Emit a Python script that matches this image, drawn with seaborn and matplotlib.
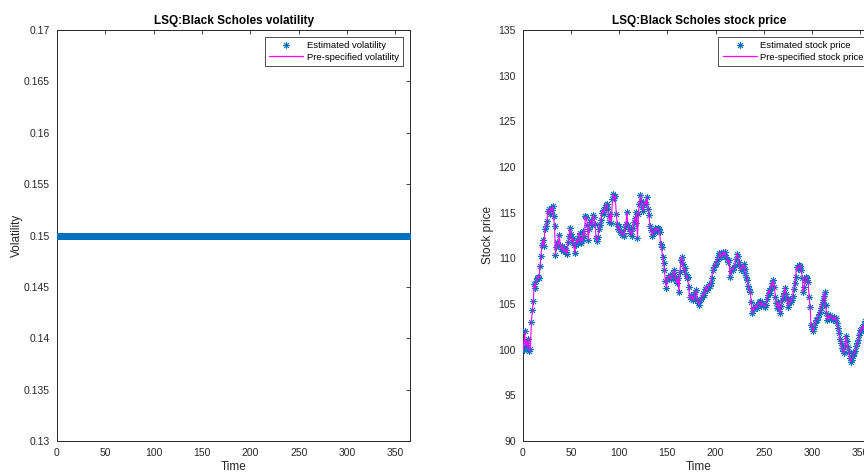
import numpy as np
import pandas as pd
import matplotlib
matplotlib.use("Agg")
import matplotlib.pyplot as plt
import seaborn as sns

# ---------------- data ----------------
time = list(range(0, 366))
volatility_est = [0.15] * len(time)
volatility_pre = [0.15] * len(time)

stock_price = [
    100.3, 100.0, 102.0, 100.5, 101.0, 100.2, 101.2, 99.9, 100.1, 103.0,
    104.3, 105.3, 107.2, 106.8, 107.5, 107.9, 108.0, 107.8, 109.2, 110.3,
    111.5, 112.0, 111.3, 113.2, 113.5, 114.1, 115.2, 115.4, 114.8, 115.5,
    115.3, 115.7, 114.6, 113.5, 110.4, 111.2, 111.8, 111.5, 112.6, 111.3,
    111.0, 111.4, 110.8, 111.1, 110.7, 110.9, 110.5, 111.8, 112.4, 113.3,
    112.7, 111.8, 112.2, 111.5, 110.6, 111.5, 112.0, 111.7, 112.5, 112.8,
    111.7, 112.2, 111.9, 113.0, 112.4, 114.6, 114.5, 113.7, 112.0, 113.2,
    114.0, 114.2, 113.6, 114.7, 114.5, 113.8, 112.2, 111.9, 112.3, 113.2,
    113.7, 114.2, 115.0, 115.3, 114.9, 115.6, 115.8, 115.9, 115.4, 114.6,
    114.0, 114.8, 113.9, 116.5, 117.0, 116.6, 116.8, 114.9, 113.8, 113.2,
    113.5, 112.9, 113.0, 112.6, 112.8, 112.5, 113.4, 113.8, 115.1, 113.7,
    113.2, 112.8, 113.0, 112.5, 113.3, 114.0, 114.4, 113.9, 115.1, 112.2,
    114.8, 116.0, 116.9, 116.3, 115.6, 115.2, 116.0, 116.2, 115.9, 116.7,
    115.4, 114.7, 113.5, 113.1, 112.5, 113.0, 112.8, 113.3, 113.2, 113.0,
    113.3, 113.2, 112.9, 111.6, 111.2, 110.2, 109.5, 108.7, 107.5, 106.8,
    107.6, 108.0, 107.9, 108.2, 107.7, 108.0, 108.4, 108.7, 108.1, 107.6,
    107.3, 107.9, 106.3, 108.5, 109.8, 110.2, 109.4, 108.7, 108.9, 108.3,
    107.9, 108.0, 106.9, 105.8, 105.5, 106.0, 105.8, 105.4, 105.9, 106.3,
    106.5, 105.6, 105.1, 104.9, 105.4, 105.5, 105.8, 106.2, 106.0, 106.6,
    106.9, 106.5, 106.8, 107.2, 107.0, 107.3, 107.9, 108.7, 109.0, 109.3,
    109.4, 109.7, 109.9, 110.2, 110.6, 110.5, 110.1, 110.3, 110.7, 110.4,
    110.7, 110.2, 109.9, 109.6, 109.8, 108.0, 108.6, 108.9, 108.7, 109.1,
    109.3, 109.9, 110.5, 110.3, 109.6, 109.2, 108.7, 109.0, 108.9, 109.4,
    108.8, 108.4, 108.0, 107.6, 107.0, 106.6, 106.3, 105.2, 104.0, 104.6,
    104.4, 104.7, 104.9, 104.6, 105.0, 105.2, 105.3, 104.8, 105.1, 104.9,
    105.0, 104.7, 104.9, 105.5, 106.0, 106.5, 106.2, 106.8, 107.3, 106.9,
    107.6, 106.9, 105.8, 105.1, 104.6, 105.2, 104.5, 104.0, 104.8, 105.4,
    105.9, 106.2, 106.8, 106.1, 105.5, 104.7, 105.1, 105.6, 105.2, 105.4,
    105.9, 106.6, 107.3, 108.0, 109.1, 108.8, 109.0, 109.3, 109.2, 108.7,
    107.9, 106.3, 106.9, 107.6, 108.0, 107.8, 107.4, 105.8, 104.7, 102.7,
    102.3, 102.0, 102.5, 102.9, 103.2, 103.3, 103.6, 103.9, 104.1, 104.6,
    105.0, 105.4, 105.9, 106.3, 104.9, 104.0, 103.3, 103.7, 103.4, 103.8,
    103.6, 103.5, 103.2, 103.6, 103.3, 103.5, 102.9, 102.4, 101.8, 101.2,
    100.7, 100.2, 99.9, 99.6, 100.4, 101.5, 100.9, 100.3, 99.7, 99.1,
    98.7, 98.9, 99.3, 99.6, 99.6, 99.9, 100.4, 100.7, 101.1, 101.6,
    102.2, 102.0, 102.5, 102.3, 102.8, 103.1, 102.7, 103.0, 103.4, 103.2,
    103.6, 103.3, 103.8, 104.0, 103.7, 104.1,
]
stock_est = stock_price
stock_pre = stock_price

x_ticks = [0, 50, 100, 150, 200, 250, 300, 350]
vol_ticks = [0.13, 0.135, 0.14, 0.145, 0.15, 0.155, 0.16, 0.165, 0.17]
vol_ticklabels = ["0.13", "0.135", "0.14", "0.145", "0.15", "0.155", "0.16", "0.165", "0.17"]
price_ticks = [90, 95, 100, 105, 110, 115, 120, 125, 130, 135]

# ---------------- style ----------------
sns.set_theme(style="white")
plt.rcParams["font.family"] = ["Liberation Sans", "DejaVu Sans"]

BLUE = (0.0, 0.447, 0.741)
MAG = (1.0, 0.0, 1.0)
AX = "#262626"
STAR = (8, 2, 0)

fig = plt.figure(figsize=(8.64, 4.72), dpi=100)
ax1 = fig.add_axes([57 / 864, 31 / 472, 353 / 864, 411 / 472])
ax2 = fig.add_axes([522.7 / 864, 31 / 472, 352 / 864, 411 / 472])

df_vol = pd.DataFrame({"Time": time, "est": volatility_est, "pre": volatility_pre})
df_px = pd.DataFrame({"Time": time, "est": stock_est, "pre": stock_pre})


def draw(ax, df, est_label, pre_label, line_z):
    sns.lineplot(data=df, x="Time", y="est", ax=ax, linestyle="none",
                 marker=STAR, markersize=5, markeredgewidth=0.6,
                 color=BLUE, markeredgecolor=BLUE, label=est_label,
                 estimator=None, sort=False, zorder=3)
    sns.lineplot(data=df, x="Time", y="pre", ax=ax, color=MAG, linewidth=0.8,
                 label=pre_label, estimator=None, sort=False, zorder=line_z)


draw(ax1, df_vol, "Estimated volatility", "Pre-specified volatility", 2)
draw(ax2, df_px, "Estimated stock price", "Pre-specified stock price", 4)

for ax in (ax1, ax2):
    ax.set_xlim(0, 365)
    ax.set_xticks(x_ticks)
    ax.set_xlabel("Time", fontsize=8.5, color=AX, labelpad=2)
    ax.tick_params(direction="in", length=3, width=0.6, colors=AX,
                   labelsize=7.5, top=True, right=True)
    ax.tick_params(axis="x", pad=5)
    ax.tick_params(axis="y", pad=5)
    for s in ax.spines.values():
        s.set_color(AX)
        s.set_linewidth(0.7)
    leg = ax.legend(loc="upper right", fontsize=6.8, frameon=True, fancybox=False,
                    edgecolor="black", borderpad=0.45, handlelength=3.6,
                    handletextpad=0.4, labelspacing=0.3, borderaxespad=0.7)
    leg.get_frame().set_linewidth(0.6)
    for t in leg.get_texts():
        t.set_color("black")
    leg.get_lines()[1].set_color(MAG)
    leg.get_lines()[1].set_linewidth(0.9)

ax1.set_ylim(0.13, 0.17)
ax1.set_yticks(vol_ticks)
ax1.set_yticklabels(vol_ticklabels)
ax1.set_ylabel("Volatility", fontsize=8.5, color=AX, labelpad=1)
ax1.set_title("LSQ:Black Scholes volatility", fontsize=8.5, fontweight="bold",
              color="black", pad=4)

ax2.set_ylim(90, 135)
ax2.set_yticks(price_ticks)
ax2.set_ylabel("Stock price", fontsize=8.5, color=AX, labelpad=3)
ax2.set_title("LSQ:Black Scholes stock price", fontsize=8.5, fontweight="bold",
              color="black", pad=4)

fig.savefig("out.png", dpi=100)
